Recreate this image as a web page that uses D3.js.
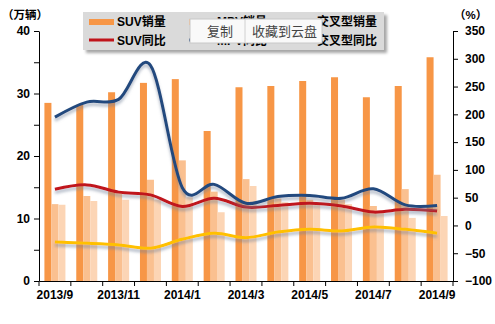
<!DOCTYPE html>
<html>
<head>
<meta charset="utf-8">
<script src="https://cdn.jsdelivr.net/npm/d3@7"></script>
<style>
  html, body { margin: 0; padding: 0; background: #fff; }
  svg { display: block; font-family: "Liberation Sans", Arial, "Noto Sans CJK SC", sans-serif; }
  .axis text { font-size: 12px; font-weight: bold; fill: #000; }
  .axis path, .axis line { stroke: #000; stroke-width: 1; }
</style>
</head>
<body>
<svg id="chart" width="495" height="324"></svg>
<script>
// Monthly sales (10k units) and year-on-year growth (%)
const months = ["2013/9","2013/10","2013/11","2013/12","2014/1","2014/2","2014/3",
                "2014/4","2014/5","2014/6","2014/7","2014/8","2014/9"];
const suvSales   = [28.5, 28.2, 30.2, 31.7, 32.3, 24.0, 31.0, 31.2, 32.0, 32.6, 29.4, 31.2, 35.8];
const mpvSales   = [12.3, 13.6, 14.2, 16.2, 19.3, 14.3, 16.3, 13.2, 13.0, 13.0, 12.0, 14.7, 17.0];
const crossSales = [12.2, 12.8, 13.0, 13.0, 13.4, 11.0, 15.2, 12.6, 12.2, 12.3, 11.3, 10.1, 10.4];
const suvYoY   = [65, 73, 60, 55, 34, 49, 33, 36, 40, 35, 24, 29, 26];
const mpvYoY   = [195, 222, 227, 288, 68, 74, 40, 52, 54, 49, 66, 37, 36];
const crossYoY = [-30, -32, -35, -41, -25, -14, -22, -12, -7, -10, -3, -7, -14];
const leftTicks  = [0, 5, 10, 15, 20, 25, 30, 35, 40];
const rightTicks = [-100, -50, 0, 50, 100, 150, 200, 250, 300, 350];

const barSeries = [
  { name: "SUV销量",   values: suvSales,   color: "#F79646" },
  { name: "MPV销量",   values: mpvSales,   color: "#FAC090" },
  { name: "交叉型销量", values: crossSales, color: "#FCD5B5" }
];
const lineSeries = [
  { name: "SUV同比",   values: suvYoY,   color: "#C0141B" },
  { name: "MPV同比",   values: mpvYoY,   color: "#23497E" },
  { name: "交叉型同比", values: crossYoY, color: "#FFC000" }
];

const svg = d3.select("#chart");
const plot = { left: 39, right: 453, top: 31, bottom: 281 };

const x = d3.scaleBand().domain(months).range([plot.left, plot.right]).padding(0);
const bw = x.bandwidth();
const xInner = d3.scaleBand().domain(barSeries.map(d => d.name))
  .range([bw * 0.17, bw * 0.83]).padding(0);
const yL = d3.scaleLinear().domain([0, 40]).range([plot.bottom, plot.top]);
const yR = d3.scaleLinear().domain([-100, 350]).range([plot.bottom, plot.top]);

// drop shadow for the growth lines
const defs = svg.append("defs");
const f = defs.append("filter").attr("id", "lineShadow")
  .attr("x", "-5%").attr("y", "-20%").attr("width", "110%").attr("height", "160%");
f.append("feDropShadow").attr("dx", 0).attr("dy", 3).attr("stdDeviation", 1.4)
  .attr("flood-color", "#6f7f99").attr("flood-opacity", 0.55);
const lf = defs.append("filter").attr("id", "boxShadow")
  .attr("x", "-10%").attr("y", "-30%").attr("width", "120%").attr("height", "170%");
lf.append("feDropShadow").attr("dx", 3).attr("dy", 3).attr("stdDeviation", 1.5)
  .attr("flood-color", "#000").attr("flood-opacity", 0.35);

// bars
barSeries.forEach(s => {
  svg.append("g").selectAll("rect").data(s.values).join("rect")
    .attr("x", (d, i) => x(months[i]) + xInner(s.name))
    .attr("width", xInner.bandwidth())
    .attr("y", d => yL(d))
    .attr("height", d => yL(0) - yL(d))
    .attr("fill", s.color);
});

// growth lines
const line = d3.line()
  .x((d, i) => x(months[i]) + bw / 2)
  .y(d => yR(d))
  .curve(d3.curveCatmullRom.alpha(0));
[lineSeries[2], lineSeries[0], lineSeries[1]].forEach(s => {
  svg.append("path").datum(s.values)
    .attr("d", line)
    .attr("fill", "none")
    .attr("stroke", s.color)
    .attr("stroke-width", 3)
    .attr("stroke-linejoin", "round")
    .attr("filter", "url(#lineShadow)");
});

// left axis: ticks every 5, labels every 10
svg.append("g").attr("class", "axis")
  .attr("transform", `translate(${plot.left},0)`)
  .call(d3.axisLeft(yL).tickValues(leftTicks)
    .tickFormat(d => d % 10 === 0 ? d : "").tickSize(5).tickPadding(4).tickSizeOuter(0));

// right axis
svg.append("g").attr("class", "axis")
  .attr("transform", `translate(${plot.right},0)`)
  .call(d3.axisRight(yR).tickValues(rightTicks).tickSize(5).tickPadding(7).tickSizeOuter(0));

// bottom axis: labels on every other month, tick marks at month boundaries
const xAxis = svg.append("g").attr("class", "axis")
  .attr("transform", `translate(0,${plot.bottom})`)
  .call(d3.axisBottom(x).tickSize(0).tickPadding(9).tickSizeOuter(0)
    .tickFormat((d, i) => i % 2 === 0 ? d : ""));
xAxis.selectAll(".boundary").data(months.concat(["end"])).join("line")
  .attr("class", "boundary")
  .attr("x1", d => d === "end" ? plot.right : x(d))
  .attr("x2", d => d === "end" ? plot.right : x(d))
  .attr("y1", 0).attr("y2", 5)
  .attr("stroke", "#000");

// axis unit labels
svg.append("text").attr("x", 2).attr("y", 19)
  .attr("font-size", 11.5).attr("font-weight", "bold").text("（万辆）");
svg.append("text").attr("x", 454).attr("y", 19)
  .attr("font-size", 11.5).attr("font-weight", "bold").text("（%）");

// legend
const legend = svg.append("g");
legend.append("rect").attr("x", 83).attr("y", 12).attr("width", 301).attr("height", 38)
  .attr("fill", "#dadada").attr("filter", "url(#boxShadow)");
const colX = [89, 189, 289];
barSeries.forEach((s, i) => {
  legend.append("rect").attr("x", colX[i]).attr("y", 19).attr("width", 25).attr("height", 6)
    .attr("fill", s.color);
  legend.append("text").attr("x", colX[i] + 28).attr("y", 26)
    .attr("font-size", 12).attr("font-weight", "bold").text(s.name);
});
lineSeries.forEach((s, i) => {
  legend.append("line").attr("x1", colX[i]).attr("x2", colX[i] + 25)
    .attr("y1", 40).attr("y2", 40).attr("stroke", s.color).attr("stroke-width", 3);
  legend.append("text").attr("x", colX[i] + 28).attr("y", 45)
    .attr("font-size", 12).attr("font-weight", "bold").text(s.name);
});

// popup toolbar over the legend
const menuItems = ["复制", "收藏到云盘"];
const menu = svg.append("g");
menu.append("rect").attr("x", 190).attr("y", 19).attr("width", 132).attr("height", 24)
  .attr("fill", "#f9f9f9").attr("stroke", "#c8c8c8");
menu.append("line").attr("x1", 245).attr("x2", 245).attr("y1", 19).attr("y2", 43)
  .attr("stroke", "#d0d0d0");
menu.append("text").attr("x", 207).attr("y", 36).attr("font-size", 13)
  .attr("fill", "#444").text(menuItems[0]);
menu.append("text").attr("x", 252).attr("y", 36).attr("font-size", 13)
  .attr("fill", "#444").text(menuItems[1]);
</script>
</body>
</html>
